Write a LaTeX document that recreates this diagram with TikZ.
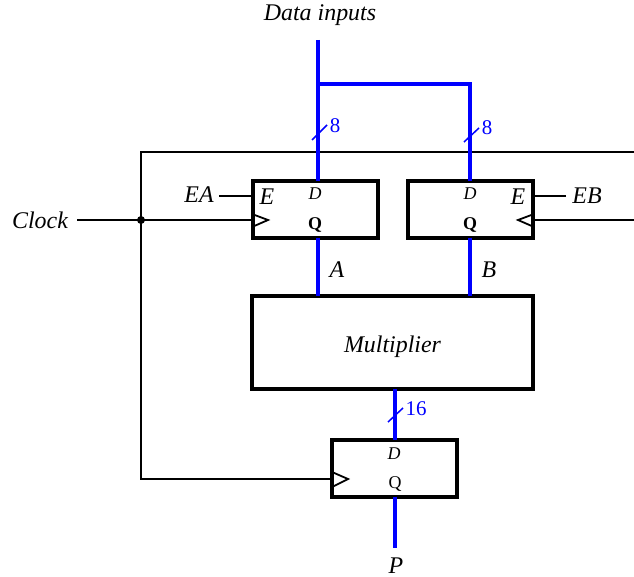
\documentclass[tikz,border=0pt]{standalone}
\usepackage{fontspec}
\setmainfont{Liberation Serif}
\definecolor{busblue}{RGB}{0,0,255}
\newcommand{\fsz}[1]{\fontsize{#1}{#1}\selectfont}
\begin{document}
\begin{tikzpicture}[x=1bp,y=-1bp]
\tikzstyle{every node}=[inner sep=0pt, outer sep=0pt]
\tikzstyle{regbox}=[draw, line width=4bp, minimum width=125bp, minimum height=57bp]
\tikzstyle{wire}=[line width=1.8bp]
\tikzstyle{bus}=[line width=4bp, color=busblue]
\tikzstyle{bustick}=[line width=1.5bp, color=busblue]
\tikzstyle{biglabel}=[font=\fsz{24}\itshape]
\tikzstyle{pinlabel}=[font=\fsz{18}\itshape]
\tikzstyle{sizelabel}=[font=\fsz{21}, text=busblue]
\useasboundingbox (0,0) rectangle (634,577);
\node [regbox] (RA) at (315.5,209.5) {};
\node [regbox] (RB) at (470,209.5) {};
\node [regbox, minimum width=281bp, minimum height=93bp] (M) at (392.5,342.5) {};
\node [regbox] (RP) at (394.5,468) {};
\node [biglabel] (ML) at (392.5,346.5) {Multiplier};
\node [biglabel] (DI) at (320,15.5) {Data inputs};
\node [biglabel] (CL) at (40,220) {Clock};
\node [biglabel] (EA) at (199,195) {EA};
\node [biglabel] (EB) at (587,196) {EB};
\node [biglabel] (EAP) at (267,197) {E};
\node [biglabel] (EBP) at (518,197) {E};
\node [biglabel] (LA) at (337,270) {A};
\node [biglabel] (LB) at (489,270) {B};
\node [biglabel] (LP) at (396,566) {P};
\node [pinlabel] (DA) at (315,194) {D};
\node [pinlabel] (DB) at (470,194) {D};
\node [pinlabel] (DP) at (394,453.5) {D};
\node [font=\fsz{18}\bfseries] (QA) at (315,225.5) {Q};
\node [font=\fsz{18}\bfseries] (QB) at (470,225.5) {Q};
\node [font=\fsz{18}] (QP) at (395,484) {Q};
\node [sizelabel] (WA) at (335,126) {8};
\node [sizelabel] (WB) at (487,128) {8};
\node [sizelabel] (WP) at (416,409) {16};
\coordinate (IN) at (318,40);
\coordinate (BA) at (318,84);
\coordinate (BB) at (470,84);
\coordinate (OUT) at (395,548);
\coordinate (TOP) at (141,152);
\coordinate (TE) at (634,152);
\coordinate (CE) at (634,220);
\coordinate (LO) at (141,479);
\coordinate (CS) at (77,220);
\coordinate (CKA) at (252,220);
\coordinate (CKB) at (534,220);
\coordinate (CKP) at (332,479);
\coordinate (ENA) at (219,196);
\coordinate (ENB) at (566,196);
\draw [wire] (CS) to (CKA);
\draw [wire] (CE) to (CKB);
\draw [wire] (TE) to (TOP) to (LO) to (CKP);
\node [circle, fill, minimum size=8bp] (J) at (141,220) {};
\draw [wire] (ENA) to (ENA -| RA.west);
\draw [wire] (ENB) to (ENB -| RB.east);
\draw [wire] (CKA)++(0,-6) -- ++(16,6) -- ++(-16,7);
\draw [wire] (CKB)++(0,-6) -- ++(-16,6) -- ++(16,7);
\draw [wire] (CKP)++(0,-7) -- ++(16,7) -- ++(-16,8);
\draw [bus] (IN) to (RA.north -| IN);
\draw [bus] (BA) to (BB) to (RB.north -| BB);
\draw [bus] (RA.south -| IN) to (M.north -| IN);
\draw [bus] (RB.south -| BB) to (M.north -| BB);
\draw [bus] (M.south -| OUT) to (RP.north -| OUT);
\draw [bus] (RP.south -| OUT) to (OUT);
\draw [bustick] (312,140) to (327,125);
\draw [bustick] (464,142) to (479,128);
\draw [bustick] (388,422) to (403,408);
\end{tikzpicture}
\end{document}
